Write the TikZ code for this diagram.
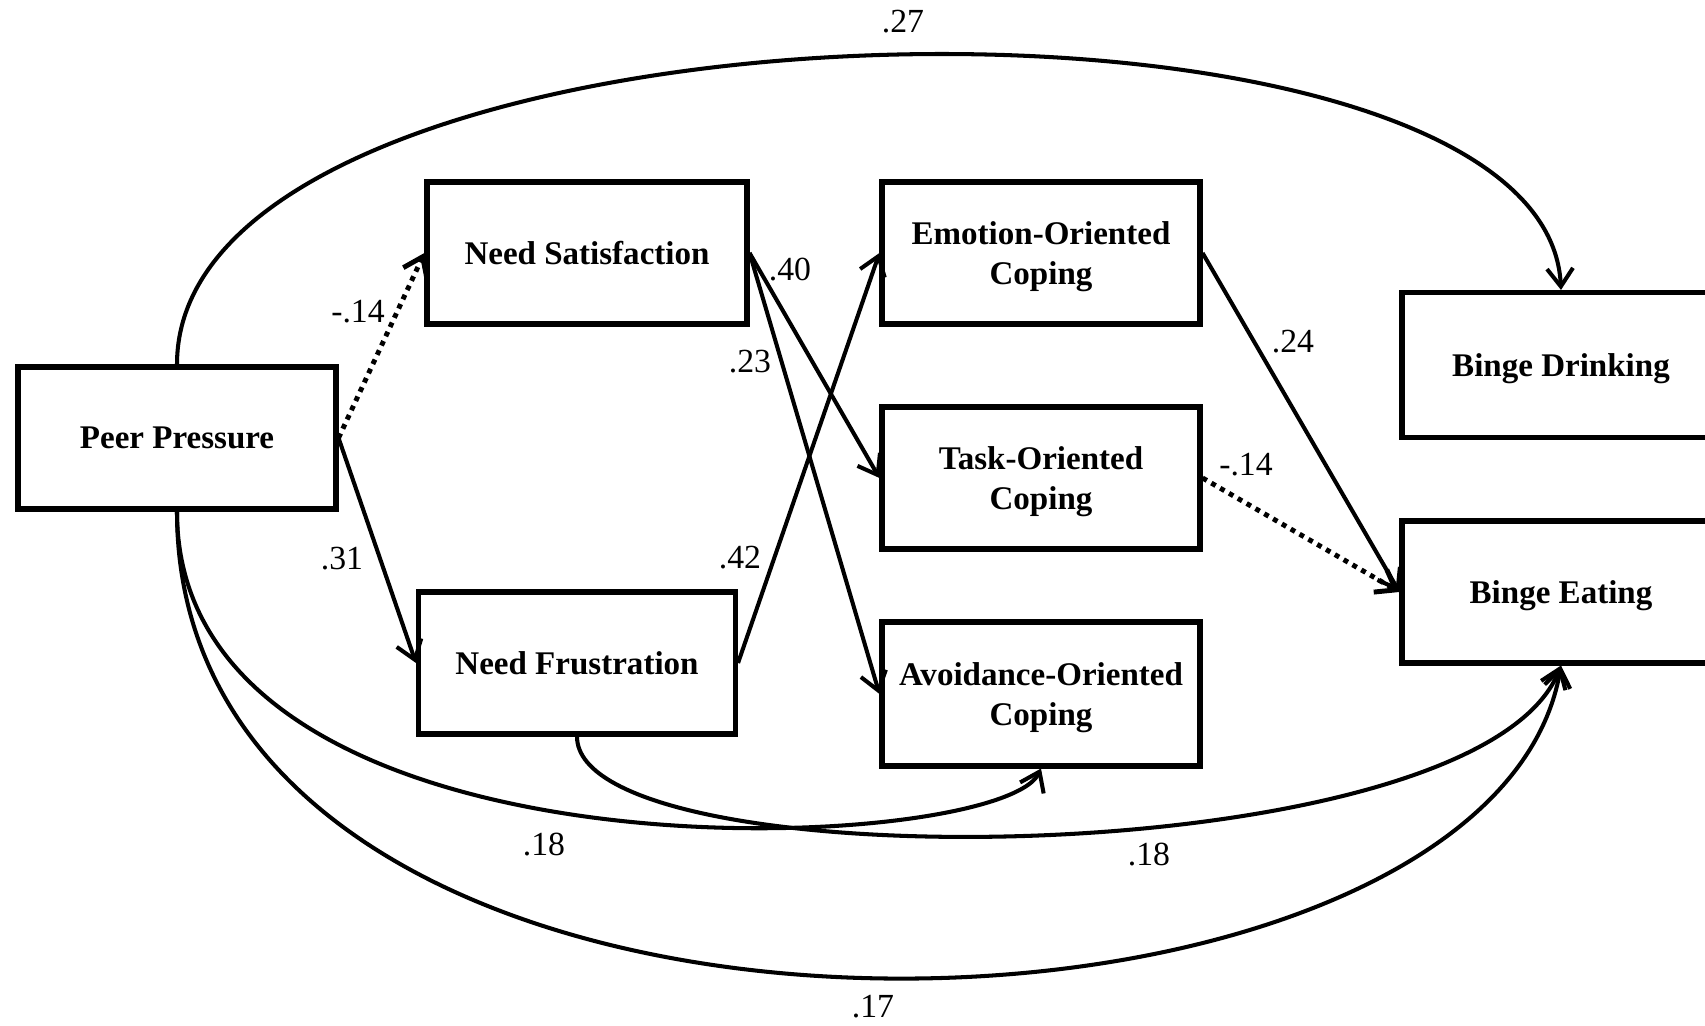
\documentclass[tikz,border=0pt]{standalone}
\usepackage{fontspec}
\setmainfont{Liberation Serif}
\usetikzlibrary{arrows.meta}

\tikzset{
	var/.style={draw, line width=1.45pt, minimum width=3.18cm, minimum height=1.42cm, inner sep=0pt, text depth=0pt, align=center, font=\fontsize{9.4pt}{11.4pt}\selectfont\bfseries},
	link/.style={line width=1.15pt, -{Straight Barb[length=1.8mm,width=2.6mm]}},
	nsig/.style={link, line width=1.4pt, dash pattern=on 1.4pt off 1.5pt},
	coef/.style={inner sep=0pt, font=\fontsize{9.6pt}{11.4pt}\selectfont}
}

\begin{document}
\begin{tikzpicture}
			\def \colA{ 1.77 };
			\def \colB{ 5.82 };
			\def \colC{ 10.41 };
			\def \colD{ 15.61 };
			\useasboundingbox (0,0) rectangle (17.05,10.26);
			\node[var] (pp) at (\colA,5.88) {Peer Pressure};
			\node[var, minimum width=3.2cm] (ns) at (\colB+0.05,7.73) {Need Satisfaction};
			\node[var, minimum width=3.17cm] (nf) at (\colB-0.05,3.63) {Need Frustration};
			\node[var] (eoc) at (\colC,7.73) {Emotion-Oriented\\Coping};
			\node[var] (toc) at (\colC,5.48) {Task-Oriented\\Coping};
			\node[var, minimum height=1.44cm] (aoc) at (\colC,3.32) {Avoidance-Oriented\\Coping};
			\node[var, minimum height=1.45cm] (bd) at (\colD,6.61) {Binge Drinking};
			\node[var] (be) at (\colD,4.34) {Binge Eating};
			\draw[nsig] (pp.east) -- (ns.west);
			\draw[link] (pp.east) -- (nf.west);
			\draw[link] (ns.east) -- (toc.west);
			\draw[link] (ns.east) -- (aoc.west);
			\draw[link] (nf.east) -- (eoc.west);
			\draw[link] (eoc.east) -- (be.west);
			\draw[nsig] (toc.east) -- (be.west);
			\draw[link] (pp.north) .. controls (1.77,10.45) and (15.45,10.75) .. (bd.north);
			\draw[link] (pp.south) .. controls (1.77,1.3) and (10.0,1.7) .. (aoc.south);
			\draw[link] (nf.south) .. controls (5.77,1.43) and (14.8,1.5) .. (be.south);
			\draw[link] (pp.south) .. controls (1.77,-1.0) and (14.9,-0.6) .. (be.south);
			\node[coef] (c1) at (9.03,10.04) {.27};
			\node[coef] (c2) at (3.58,7.14) {-.14};
			\node[coef] (c3) at (3.42,4.67) {.31};
			\node[coef] (c4) at (7.90,7.56) {.40};
			\node[coef] (c5) at (7.50,6.64) {.23};
			\node[coef] (c6) at (7.40,4.68) {.42};
			\node[coef] (c7) at (12.93,6.84) {.24};
			\node[coef] (c8) at (12.46,5.61) {-.14};
			\node[coef] (c9) at (5.44,1.81) {.18};
			\node[coef] (c10) at (11.49,1.71) {.18};
			\node[coef] (c11) at (8.73,0.19) {.17};
		\end{tikzpicture}
\end{document}
